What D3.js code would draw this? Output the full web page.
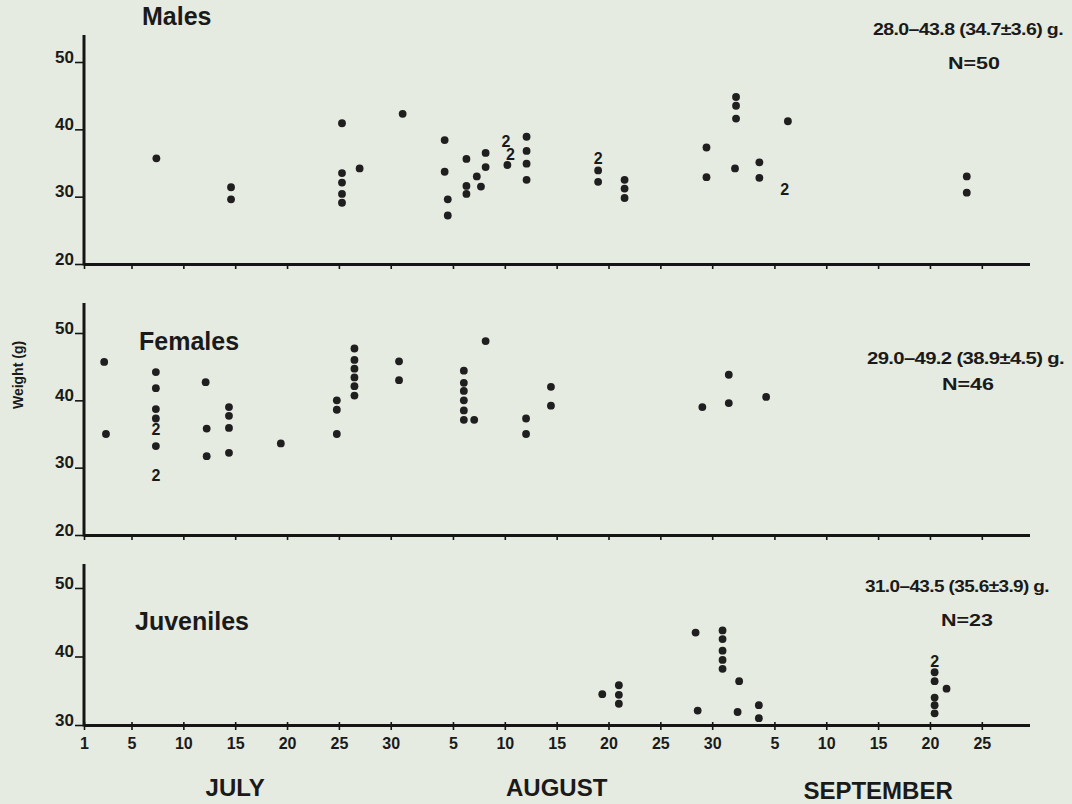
<!DOCTYPE html>
<html>
<head>
<meta charset="utf-8">
<script src="https://cdn.jsdelivr.net/npm/d3@7"></script>
<style>
  html, body { margin: 0; padding: 0; background: #e6ebe1; }
  svg { display: block; }
  text { font-family: "Liberation Sans", Arial, Helvetica, sans-serif; font-weight: bold; fill: #1a1a1a; }
</style>
</head>
<body>
<svg id="chart" width="1072" height="804"></svg>
<script>
// ---------------- DATA ----------------
// day = day counted from July 1 (July 1 = 1, Aug 1 = 32, Sep 1 = 63); g = weight (g); n = number of animals at that point
const males = [
  {day: 7.4, g: 35.7, n: 1},
  {day: 14.6, g: 31.4, n: 1}, {day: 14.6, g: 29.6, n: 1},
  {day: 25.3, g: 40.9, n: 1}, {day: 25.3, g: 33.5, n: 1}, {day: 25.3, g: 32.1, n: 1}, {day: 25.3, g: 30.4, n: 1}, {day: 25.3, g: 29.1, n: 1},
  {day: 27.0, g: 34.2, n: 1},
  {day: 31.15, g: 42.3, n: 1},
  {day: 35.2, g: 38.4, n: 1}, {day: 35.2, g: 33.7, n: 1},
  {day: 35.5, g: 29.6, n: 1}, {day: 35.5, g: 27.2, n: 1},
  {day: 37.3, g: 35.6, n: 1}, {day: 37.3, g: 31.6, n: 1}, {day: 37.3, g: 30.4, n: 1},
  {day: 38.3, g: 33.0, n: 1},
  {day: 38.7, g: 31.5, n: 1},
  {day: 39.15, g: 36.5, n: 1}, {day: 39.15, g: 34.4, n: 1},
  {day: 41.1, g: 38.2, n: 2}, {day: 41.55, g: 36.2, n: 2}, {day: 41.25, g: 34.7, n: 1},
  {day: 43.1, g: 38.9, n: 1}, {day: 43.1, g: 36.8, n: 1}, {day: 43.1, g: 34.9, n: 1}, {day: 43.1, g: 32.5, n: 1},
  {day: 50.0, g: 35.6, n: 2}, {day: 50.0, g: 33.9, n: 1}, {day: 50.0, g: 32.2, n: 1},
  {day: 52.55, g: 32.5, n: 1}, {day: 52.55, g: 31.2, n: 1}, {day: 52.55, g: 29.8, n: 1},
  {day: 60.45, g: 37.3, n: 1}, {day: 60.45, g: 32.9, n: 1},
  {day: 63.3, g: 44.8, n: 1}, {day: 63.3, g: 43.5, n: 1}, {day: 63.3, g: 41.6, n: 1}, {day: 63.2, g: 34.2, n: 1},
  {day: 65.55, g: 35.1, n: 1}, {day: 65.55, g: 32.8, n: 1},
  {day: 68.3, g: 41.2, n: 1},
  {day: 68.0, g: 31.1, n: 2},
  {day: 85.55, g: 33.0, n: 1}, {day: 85.55, g: 30.6, n: 1}
];

const females = [
  {day: 2.7, g: 45.7, n: 1}, {day: 2.85, g: 35.0, n: 1},
  {day: 7.35, g: 44.2, n: 1}, {day: 7.35, g: 41.8, n: 1}, {day: 7.35, g: 38.7, n: 1}, {day: 7.35, g: 37.3, n: 1},
  {day: 7.35, g: 35.6, n: 2}, {day: 7.35, g: 33.2, n: 1}, {day: 7.35, g: 28.8, n: 2},
  {day: 12.15, g: 42.7, n: 1}, {day: 12.25, g: 35.8, n: 1}, {day: 12.25, g: 31.7, n: 1},
  {day: 14.4, g: 39.0, n: 1}, {day: 14.4, g: 37.7, n: 1}, {day: 14.4, g: 35.9, n: 1}, {day: 14.4, g: 32.2, n: 1},
  {day: 19.4, g: 33.6, n: 1},
  {day: 24.8, g: 40.0, n: 1}, {day: 24.8, g: 38.6, n: 1}, {day: 24.8, g: 35.0, n: 1},
  {day: 26.5, g: 47.7, n: 1}, {day: 26.5, g: 46.0, n: 1}, {day: 26.5, g: 44.7, n: 1}, {day: 26.5, g: 43.4, n: 1}, {day: 26.5, g: 42.1, n: 1}, {day: 26.5, g: 40.7, n: 1},
  {day: 30.8, g: 45.8, n: 1}, {day: 30.8, g: 43.0, n: 1},
  {day: 37.05, g: 44.4, n: 1}, {day: 37.05, g: 42.6, n: 1}, {day: 37.05, g: 41.4, n: 1}, {day: 37.05, g: 40.0, n: 1}, {day: 37.05, g: 38.5, n: 1}, {day: 37.05, g: 37.1, n: 1},
  {day: 38.05, g: 37.1, n: 1},
  {day: 39.15, g: 48.8, n: 1},
  {day: 43.05, g: 37.3, n: 1}, {day: 43.05, g: 35.0, n: 1},
  {day: 45.45, g: 42.0, n: 1}, {day: 45.45, g: 39.2, n: 1},
  {day: 60.05, g: 39.0, n: 1},
  {day: 62.6, g: 43.8, n: 1}, {day: 62.6, g: 39.6, n: 1},
  {day: 66.2, g: 40.5, n: 1}
];

const juveniles = [
  {day: 50.4, g: 34.5, n: 1},
  {day: 52.0, g: 35.8, n: 1}, {day: 52.0, g: 34.4, n: 1}, {day: 52.0, g: 33.1, n: 1},
  {day: 59.4, g: 43.5, n: 1},
  {day: 59.6, g: 32.1, n: 1},
  {day: 62.0, g: 43.8, n: 1}, {day: 62.0, g: 42.55, n: 1}, {day: 62.0, g: 40.85, n: 1}, {day: 62.0, g: 39.5, n: 1}, {day: 62.0, g: 38.2, n: 1},
  {day: 63.6, g: 36.4, n: 1},
  {day: 63.45, g: 31.9, n: 1},
  {day: 65.5, g: 32.9, n: 1}, {day: 65.5, g: 31.0, n: 1},
  {day: 82.45, g: 39.3, n: 2}, {day: 82.45, g: 37.7, n: 1}, {day: 82.45, g: 36.4, n: 1}, {day: 82.45, g: 34.0, n: 1}, {day: 82.45, g: 32.9, n: 1}, {day: 82.45, g: 31.7, n: 1},
  {day: 83.6, g: 35.3, n: 1}
];

const panelNames = ["Males", "Females", "Juveniles"];
const statTexts = ["28.0\u201343.8 (34.7\u00B13.6) g.", "29.0\u201349.2 (38.9\u00B14.5) g.", "31.0\u201343.5 (35.6\u00B13.9) g."];
const nTexts = ["N=50", "N=46", "N=23"];
const yTicksMF = [20, 30, 40, 50];
const yTicksJ = [30, 40, 50];
const xTickDays = [1, 5, 10, 15, 20, 25, 30, 36, 41, 46, 51, 56, 61, 67, 72, 77, 82, 87];
const xTickLabels = ["1", "5", "10", "15", "20", "25", "30", "5", "10", "15", "20", "25", "30", "5", "10", "15", "20", "25"];
const months = ["JULY", "AUGUST", "SEPTEMBER"];
const monthMidDays = [15, 46, 77];
const yLabel = "Weight (g)";

// ---------------- LAYOUT ----------------
const svg = d3.select("#chart");
svg.append("rect").attr("width", 1072).attr("height", 804).attr("fill", "#e6ebe1");

const x = d3.scaleLinear().domain([1, 5, 91.6]).range([84, 131.5, 1029.5]);

const panels = [
  {data: males, yDomain: [20, 50], yRange: [264, 62], top: 35, ticks: yTicksMF,
   title: [142, 25], stat: [873, 35, 190], nPos: [948, 69]},
  {data: females, yDomain: [20, 50], yRange: [535, 333], top: 303, ticks: yTicksMF,
   title: [139, 350], stat: [867, 364, 197], nPos: [942, 390]},
  {data: juveniles, yDomain: [30, 50], yRange: [725, 588], top: 564, ticks: yTicksJ,
   title: [135, 630], stat: [865, 592, 184], nPos: [941, 626]}
];

panels.forEach((p, i) => {
  const y = d3.scaleLinear().domain(p.yDomain).range(p.yRange);
  const g = svg.append("g");
  const baseY = p.yRange[0];

  // x axis
  const xAxis = d3.axisBottom(x)
    .tickValues(xTickDays)
    .tickSize(5)
    .tickSizeOuter(0)
    .tickPadding(8)
    .tickFormat((d, k) => i === 2 ? xTickLabels[k] : "");
  const xa = g.append("g").attr("transform", `translate(0,${baseY})`).call(xAxis);
  xa.select(".domain").attr("stroke", "#151515").attr("stroke-width", 3);
  xa.selectAll(".tick line").attr("stroke", "#151515").attr("stroke-width", 1.6)
    .attr("y1", i === 2 ? -3 : 0);
  xa.selectAll(".tick text")
    .style("font-size", "16px").style("font-weight", "bold")
    .attr("fill", "#1a1a1a");

  // y axis
  const yAxis = d3.axisLeft(y).tickValues(p.ticks).tickSize(9).tickPadding(1).tickSizeOuter(0);
  const ya = g.append("g").attr("transform", `translate(84,0)`).call(yAxis);
  ya.select(".domain").remove();
  ya.selectAll(".tick line").attr("stroke", "#151515").attr("stroke-width", 1.6);
  ya.selectAll(".tick text")
    .attr("dy", "0").attr("y", 0)
    .style("font-size", "17px").style("font-weight", "bold")
    .attr("fill", "#1a1a1a");
  g.append("line")
    .attr("x1", 84).attr("x2", 84)
    .attr("y1", baseY + 1.5).attr("y2", p.top)
    .attr("stroke", "#151515").attr("stroke-width", 3);

  // points
  const single = p.data.filter(d => d.n === 1);
  const multi = p.data.filter(d => d.n > 1);
  g.selectAll("circle.pt").data(single).join("circle")
    .attr("class", "pt")
    .attr("cx", d => x(d.day))
    .attr("cy", d => y(d.g))
    .attr("r", 3.9)
    .attr("fill", "#1f1f1f");
  g.selectAll("text.cnt").data(multi).join("text")
    .attr("class", "cnt")
    .attr("x", d => x(d.day))
    .attr("y", d => y(d.g))
    .attr("text-anchor", "middle")
    .attr("dominant-baseline", "central")
    .style("font-size", "16px")
    .text(d => d.n);

  // titles & stats
  g.append("text").attr("x", p.title[0]).attr("y", p.title[1])
    .style("font-size", "25px").text(panelNames[i]);
  g.append("text").attr("x", p.stat[0]).attr("y", p.stat[1])
    .attr("textLength", p.stat[2]).attr("lengthAdjust", "spacingAndGlyphs")
    .style("font-size", "16px").style("letter-spacing", "-0.5px").text(statTexts[i]);
  g.append("text").attr("x", p.nPos[0]).attr("y", p.nPos[1])
    .attr("textLength", 52).attr("lengthAdjust", "spacingAndGlyphs")
    .style("font-size", "17px").text(nTexts[i]);
});

// month labels
svg.selectAll("text.month").data(months).join("text")
  .attr("class", "month")
  .attr("x", (d, i) => x(monthMidDays[i]))
  .attr("y", (d, i) => 796 + (i === 2 ? 3 : 0))
  .attr("text-anchor", "middle")
  .style("font-size", "24px")
  .text(d => d);

// y label
svg.append("text")
  .attr("transform", "translate(23,375) rotate(-90)")
  .attr("text-anchor", "middle")
  .style("font-size", "14px")
  .text(yLabel);
</script>
</body>
</html>
